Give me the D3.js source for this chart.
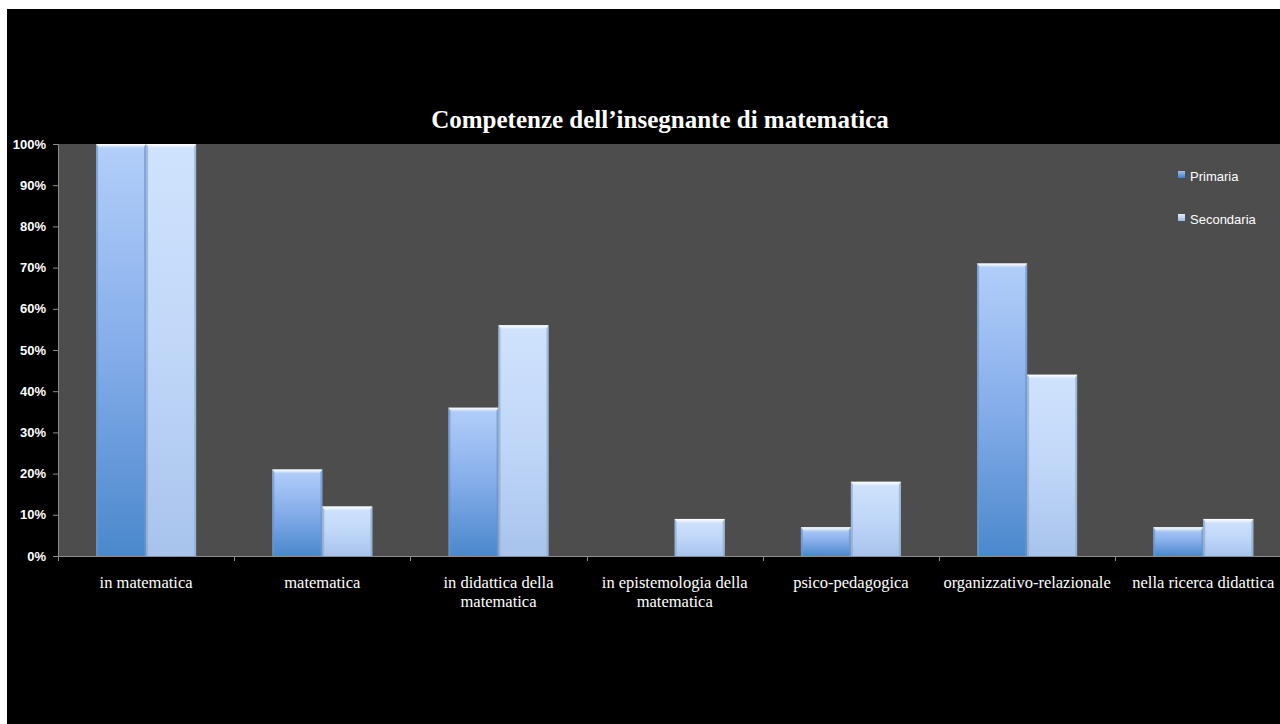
<!DOCTYPE html>
<html>
<head>
<meta charset="utf-8">
<script src="https://cdn.jsdelivr.net/npm/d3@7"></script>
<style>
  html, body { margin: 0; padding: 0; background: #ffffff; }
  svg { display: block; }
</style>
</head>
<body>
<svg id="chart" width="1280" height="724"></svg>
<script>
// Chart data
const categories = [
  "in matematica",
  "matematica",
  "in didattica della matematica",
  "in epistemologia della matematica",
  "psico-pedagogica",
  "organizzativo-relazionale",
  "nella ricerca didattica"
];
// Category labels as they wrap under the axis
const categoryLines = [
  ["in matematica"],
  ["matematica"],
  ["in didattica della", "matematica"],
  ["in epistemologia della", "matematica"],
  ["psico-pedagogica"],
  ["organizzativo-relazionale"],
  ["nella ricerca didattica"]
];
const seriesNames = ["Primaria", "Secondaria"];
const primaria = [100, 21, 36, 0, 7, 71, 7];
const secondaria = [100, 12, 56, 9, 18, 44, 9];
const yTicks = [0, 10, 20, 30, 40, 50, 60, 70, 80, 90, 100];
const titleText = "Competenze dell\u2019insegnante di matematica";

const svg = d3.select("#chart");

// Slide background: black panel inside a thin white margin
svg.append("rect").attr("x", 7).attr("y", 9).attr("width", 1273).attr("height", 715).attr("fill", "#000");

const plot = { left: 58, top: 144, bottom: 556, right: 58 + 7 * 176.2 };

const x = d3.scaleBand().domain(categories).range([plot.left, plot.right]).paddingInner(0).paddingOuter(0);
const xSub = d3.scaleBand().domain(seriesNames).range([0, 100]);
const groupOffset = (x.bandwidth() - 100) / 2;
const y = d3.scaleLinear().domain([0, 100]).range([plot.bottom, plot.top]);

// Gradients
const defs = svg.append("defs");
function vGrad(id, stops) {
  const g = defs.append("linearGradient").attr("id", id).attr("x1", 0).attr("y1", 0).attr("x2", 0).attr("y2", 1);
  stops.forEach(s => g.append("stop").attr("offset", s[0]).attr("stop-color", s[1]));
}
vGrad("gPrim", [[0, "#b3cffa"], [0.5, "#85adea"], [1, "#4a88cc"]]);
vGrad("gSec", [[0, "#d0e3fd"], [0.5, "#c0d7f8"], [1, "#a8c3ec"]]);
vGrad("gBevelPrim", [[0, "#ffffff"], [0.35, "#e4efff"], [1, "#b3cffa"]]);
vGrad("gBevelSec", [[0, "#ffffff"], [0.35, "#eef5ff"], [1, "#d0e3fd"]]);

// Plot area
svg.append("rect")
  .attr("x", plot.left).attr("y", plot.top)
  .attr("width", plot.right - plot.left).attr("height", plot.bottom - plot.top)
  .attr("fill", "#4d4d4d");

// Bars
const series = [
  { name: "Primaria", values: primaria, fill: "url(#gPrim)", bevel: "url(#gBevelPrim)", edge: "#6e95c8" },
  { name: "Secondaria", values: secondaria, fill: "url(#gSec)", bevel: "url(#gBevelSec)", edge: "#8fa9cc" }
];
const bars = svg.append("g");
series.forEach(s => {
  s.values.forEach((v, i) => {
    if (v <= 0) return;
    const bx = x(categories[i]) + groupOffset + xSub(s.name);
    const bw = xSub.bandwidth();
    const by = y(v);
    const bh = y(0) - y(v);
    bars.append("rect")
      .attr("x", bx).attr("y", by).attr("width", bw).attr("height", bh)
      .attr("fill", s.fill);
    // side shading
    bars.append("rect").attr("x", bx).attr("y", by).attr("width", 2).attr("height", bh)
      .attr("fill", s.edge).attr("opacity", 0.7);
    bars.append("rect").attr("x", bx + bw - 2).attr("y", by).attr("width", 2).attr("height", bh)
      .attr("fill", s.edge).attr("opacity", 0.7);
    // top bevel
    bars.append("path")
      .attr("d", `M${bx},${by} L${bx + bw},${by} L${bx + bw - 3},${by + 4} L${bx + 3},${by + 4} Z`)
      .attr("fill", s.bevel);
  });
});

// Axes
const axisColor = "#8c8c8c";
const yAxis = svg.append("g").attr("transform", `translate(${plot.left},0)`)
  .call(d3.axisLeft(y).tickValues(yTicks).tickSize(5).tickFormat(d => d + "%"));
yAxis.select(".domain").attr("stroke", axisColor);
yAxis.selectAll(".tick line").attr("stroke", axisColor);
yAxis.selectAll(".tick text")
  .attr("fill", "#ffffff")
  .attr("x", -12)
  .style("font-family", "'Liberation Sans', Arial, sans-serif")
  .style("font-weight", "bold")
  .style("font-size", "13px");

const boundaries = categories.map(c => x(c));
const xAxisG = svg.append("g");
xAxisG.append("line")
  .attr("x1", plot.left).attr("x2", plot.right)
  .attr("y1", plot.bottom + 0.5).attr("y2", plot.bottom + 0.5)
  .attr("stroke", axisColor);
xAxisG.selectAll("line.tk").data(boundaries).join("line")
  .attr("class", "tk")
  .attr("x1", d => Math.round(d) + 0.5).attr("x2", d => Math.round(d) + 0.5)
  .attr("y1", plot.bottom).attr("y2", plot.bottom + 5)
  .attr("stroke", axisColor);

// Category labels
const labels = svg.append("g")
  .style("font-family", "'Liberation Serif', 'Times New Roman', serif")
  .style("font-size", "16.5px")
  .attr("fill", "#ffffff")
  .attr("text-anchor", "middle");
categoryLines.forEach((lines, i) => {
  const cx = x(categories[i]) + x.bandwidth() / 2;
  const t = labels.append("text").attr("x", cx).attr("y", 588);
  lines.forEach((ln, j) => {
    t.append("tspan").attr("x", cx).attr("dy", j === 0 ? 0 : 19).text(ln);
  });
});

// Title
svg.append("text")
  .attr("x", 660).attr("y", 128)
  .attr("text-anchor", "middle")
  .attr("fill", "#ffffff")
  .style("font-family", "'Liberation Serif', 'Times New Roman', serif")
  .style("font-weight", "bold")
  .style("font-size", "25px")
  .text(titleText);

// Legend
vGrad("gLegPrim", [[0, "#9ec0f2"], [1, "#3f7fc6"]]);
vGrad("gLegSec", [[0, "#e2ecfb"], [1, "#9db9e2"]]);
const legendItems = [
  { name: seriesNames[0], fill: "url(#gLegPrim)", y: 181 },
  { name: seriesNames[1], fill: "url(#gLegSec)", y: 224 }
];
const legend = svg.append("g");
legendItems.forEach(it => {
  legend.append("rect").attr("x", 1178).attr("y", it.y - 10).attr("width", 7).attr("height", 7).attr("fill", it.fill);
  legend.append("text")
    .attr("x", 1190).attr("y", it.y)
    .attr("fill", "#ffffff")
    .style("font-family", "'Liberation Sans', Arial, sans-serif")
    .style("font-size", "13px")
    .text(it.name);
});
</script>
</body>
</html>
